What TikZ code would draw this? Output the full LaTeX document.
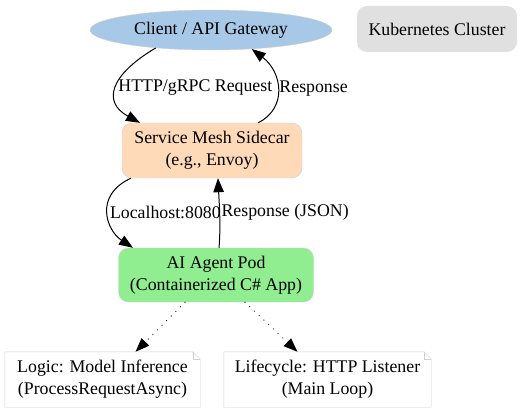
\documentclass[tikz,border=0pt]{standalone}
\usepackage{fontspec}
\setmainfont{Liberation Serif}
\usetikzlibrary{arrows.meta, shapes.geometric}

\definecolor{clientblue}{HTML}{A8C8E8}
\definecolor{meshpeach}{HTML}{FFDAB9}
\definecolor{podgreen}{HTML}{90EE90}
\definecolor{clustergrey}{HTML}{E0E0E0}
\definecolor{edgegrey}{HTML}{D0D0D0}

\tikzset{
  box/.style = {draw = edgegrey, rounded corners = 10pt, align = center, inner sep = 0pt},
  notebox/.style = {fill = white, align = center, inner sep = 0pt},
  flow/.style = {-{Triangle[length = 14pt, width = 10.5pt]}, line width = 1pt},
  hint/.style = {-{Triangle[length = 14pt, width = 10.5pt]}, line width = 1.2pt, line cap = round, dash pattern = on 0pt off 6.5pt},
  lbl/.style = {anchor = west, inner sep = 1.5pt}
}

\begin{document}
\begin{tikzpicture}[x = 1pt, y = 1pt, font = \fontsize{17.8}{22}\selectfont]
			\useasboundingbox (0,0) rectangle (523,-412);
			
			\node [ellipse, draw = edgegrey, fill = clientblue, minimum width = 242, minimum height = 40, inner sep = 0pt] (client) at (211,-30) {Client / API Gateway};
			\node [box, draw = none, fill = clustergrey, minimum width = 160, minimum height = 46] (cluster) at (437,-29) {Kubernetes Cluster};
			
			\node [box, fill = meshpeach, minimum width = 180, minimum height = 55] (sidecar) at (212,-150.5) {Service Mesh Sidecar\\(e.g., Envoy)};
			\node [box, fill = podgreen, minimum width = 195, minimum height = 54] (pod) at (216,-275) {AI Agent Pod\\(Containerized C\# App)};
			
			\node [notebox, minimum width = 195, minimum height = 55] (logic) at (102.5,-379.5) {Logic: Model Inference\\(ProcessRequestAsync)};
			\node [notebox, minimum width = 207, minimum height = 55] (listener) at (327.5,-379.5) {Lifecycle: HTTP Listener\\(Main Loop)};
			
			% folded notes
			\foreach \n in {logic, listener} {
				\draw [edgegrey] (\n.south west) -- (\n.south east) -- ([yshift = -7]\n.north east) -- ([xshift = -7]\n.north east) -- (\n.north west) -- cycle;
				\draw [edgegrey] ([xshift = -7]\n.north east) -- ([xshift = -7, yshift = -7]\n.north east) -- ([yshift = -7]\n.north east);
			}
			
			\draw [flow] (client.198) .. controls (110,-75) and (102,-102) .. ([xshift = -72]sidecar.north) node [lbl, pos = 0.5] {HTTP/gRPC Request};
			\draw [flow] ([xshift = 46]sidecar.north) .. controls (288,-108) and (282,-72) .. (client.335) node [lbl, pos = 0.5] {Response};
			
			\draw [flow] ([xshift = -81]sidecar.south) .. controls (94,-195) and (106,-230) .. ([xshift = -83]pod.north) node [lbl, pos = 0.5] {Localhost:8080};
			\draw [flow] ([xshift = 3]pod.north) .. controls (221,-225) and (219,-200) .. ([xshift = 6]sidecar.south) node [lbl, pos = 0.5] {Response (JSON)};
			
			\draw [hint] ([xshift = -31]pod.south) -- ([xshift = 33]logic.north);
			\draw [hint] ([xshift = 29]pod.south) -- ([xshift = -30]listener.north);
			
		\end{tikzpicture}
\end{document}
